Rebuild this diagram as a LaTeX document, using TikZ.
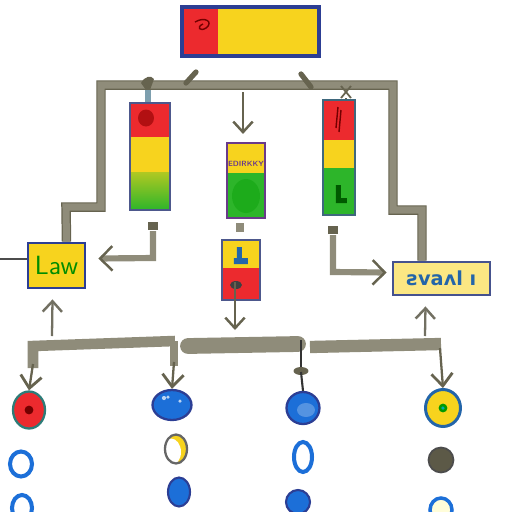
\documentclass[tikz,border=0pt]{standalone}
\usepackage{fontspec}
\newfontfamily\dvs{DejaVu Sans}
\usetikzlibrary{arrows.meta,calc,shapes.geometric}
\definecolor{pipe}{HTML}{8F8C7A}
\definecolor{pipedark}{HTML}{66634F}
\definecolor{tyellow}{HTML}{F7D31E}
\definecolor{tred}{HTML}{EC2A2E}
\definecolor{tgreen}{HTML}{2DB52A}
\definecolor{bblue}{HTML}{2C3E94}
\definecolor{cblue}{HTML}{1C6FD8}
\definecolor{tpurple}{HTML}{6A3A8A}
\definecolor{teal}{HTML}{2D7C78}
\begin{document}
\begin{tikzpicture}[x=0.02cm,y=-0.02cm,
  pipeline/.style={draw=pipedark, double=pipe, double distance=4pt, line width=0.7pt},
  parrow/.style={draw=pipe, line width=3.5pt, -{Straight Barb[color=pipedark,length=7pt,width=14pt,line width=1.4pt]}},
  tarrow/.style={draw=pipedark, line width=1.3pt, -{Straight Barb[length=6pt,width=11pt,line width=1.4pt]}},
  barrow/.style={draw=pipedark, line width=1.3pt, -{Straight Barb[length=7pt,width=12pt,line width=1.6pt]}},
  bar/.style={draw=pipe, line width=6pt},
  frame/.style={draw, line width=1.2pt, inner sep=0pt},
  dot/.style={ellipse, inner sep=0pt}
]
\useasboundingbox (0,0) rectangle (512,512);
\clip (0,0) rectangle (512,512);

% ---------- top box ----------
\node[frame, draw=none, fill=tyellow, minimum width=2.7cm, minimum height=0.94cm] (top) at (250.5,31.5) {};
\fill[tred] ($(top.north west)+(2,2)$) rectangle ($(top.south west)+(36,-2)$);
\draw[red!45!black, line width=0.8pt] (195,22) .. controls (205,16) and (214,22) .. (206,28) .. controls (200,32) and (196,27) .. (203,24);
\draw[bblue, line width=1.8pt] (top.north west) rectangle (top.south east);

% ---------- side boxes ----------
\node[frame, draw=bblue, line width=1.6pt, fill=tyellow, minimum width=1.14cm, minimum height=0.9cm,
      font=\sffamily\fontsize{15}{15}\selectfont, text=green!55!black] (lbox) at (56.5,265.5) {Law};
\node[frame, draw=bblue!70!gray, line width=1.6pt, fill=tyellow!55!white, minimum width=1.94cm, minimum height=0.66cm,
      font=\dvs\bfseries\fontsize{11}{11}\selectfont, text=bblue!80!cyan] (rbox) at (441.5,278.5) {ƨvaʌl ı};

% ---------- pipe frame ----------
\draw[pipeline] ($(lbox.north)+(10,0)$) -- (66,207) -- (101,207) -- (101,85) -- (393,85) -- (393,210) -- (422,210) -- ($(rbox.north)+(-19.5,0)$);

% marks on the top pipe
\draw[pipedark, line width=3pt, line cap=round] (186,83) -- (196,72);
\draw[pipedark, line width=3pt, line cap=round] (301,74) -- (311,87);
\fill[pipedark] (141,83) .. controls (145,76) and (151,75) .. (154,79) -- (150,90) -- (146,90) -- cycle;

% ---------- traffic lights ----------
\fill[tred] (130,103) rectangle (170,137);
\fill[tyellow] (130,137) rectangle (170,172);
\shade[top color=tgreen!35!tyellow, bottom color=tgreen] (130,172) rectangle (170,210);
\fill[red!55!black, opacity=0.6] (146,118) ellipse (0.16cm and 0.17cm);
\node[frame, draw=bblue!60!gray, minimum width=0.8cm, minimum height=2.14cm] (tlL) at (150,156.5) {};

\fill[tred] (323,100) rectangle (355,140);
\fill[tyellow] (323,140) rectangle (355,168);
\fill[tgreen] (323,168) rectangle (355,215);
\draw[red!45!black, line width=0.8pt] (338,107) -- (336,128) (341,110) -- (339,132);
\fill[green!35!black] (336,185) rectangle (341,203) (341,198) rectangle (347,203);
\node[frame, draw=teal!70!tpurple, minimum width=0.64cm, minimum height=2.3cm] (tlR) at (339,157.5) {};

% hangers
\draw[cyan!30!gray, line width=3pt] (148,90) -- ($(tlL.north)+(-2,0)$);
\draw[pipedark, line width=1pt] (341,86) -- (351,98) (351,86) -- (341,98);
\draw[pipedark, line width=1pt] (346,98) -- ($(tlR.north)+(7,0)$);

% ---------- middle column ----------
\fill[tyellow] (227,143) rectangle (265,173);
\fill[tgreen] (227,173) rectangle (265,218);
\fill[green!60!black, opacity=0.35] (246,196) ellipse (0.28cm and 0.34cm);
\node[frame, draw=tpurple, minimum width=0.76cm, minimum height=1.5cm] (mtop) at (246,180.5) {};
\node[text=tpurple, font=\sffamily\bfseries\fontsize{4.3}{4.3}\selectfont, inner sep=0pt] (mtxt) at (246,164) {EDIRKKY};

\coordinate (mh) at (243,92);
\draw[tarrow] (mh) -- ($(mtop.north)+(-3,-8)$);

\fill[tyellow] (222,240) rectangle (260,268);
\fill[tred] (222,268) rectangle (260,300);
\fill[bblue!80!cyan] (237,247) rectangle (242,260) (234,258) rectangle (248,264);
\fill[black!75] (236,285) ellipse (0.12cm and 0.08cm);
\node[frame, draw=bblue!60!gray, minimum width=0.76cm, minimum height=1.2cm] (mbot) at (241,270) {};

\draw[pipe, line width=5pt] ($(mtop.south)+(-6,4)$) -- ($(mbot.north)+(-1,-7)$);

\coordinate (mdown) at (235,330);
\draw[tarrow] ($(mbot.center)+(-6,12)$) -- (mdown);

% ---------- side arrows ----------
\fill[pipedark] (148,222) rectangle (158,230);
\draw[parrow] ($(tlL.south)+(3,20)$) -- (153,258) -- ($(lbox.east)+(12,-7)$);
\fill[pipedark] (328,226) rectangle (338,234);
\draw[parrow] ($(tlR.south)+(-6,19)$) -- (333,272) -- ($(rbox.west)+(-5,-6)$);

\draw[black!70, line width=0.8pt] (0,259) -- (lbox.west |- 0,259);

\coordinate (ua1) at (52,336);
\draw[tarrow, draw=pipe!80!black] (ua1) -- ($(lbox.south)+(-4,10)$);
\coordinate (ua2) at (425,336);
\draw[tarrow, draw=pipe!80!black] (ua2) -- ($(rbox.south)+(-16,10)$);

% ---------- circles ----------
\node[dot, fill=tred, draw=teal, line width=1.3pt, minimum width=0.64cm, minimum height=0.74cm] (c1) at (29,410) {};
\fill[red!45!black] (c1.center) circle (2.5pt);
\node[dot, fill=cblue, draw=bblue, line width=1.3pt, minimum width=0.78cm, minimum height=0.6cm] (c2) at (172,405) {};
\fill[white, opacity=0.7] (164,398) circle (1.2pt) (168,397) circle (1pt) (180,401) circle (1pt);
\node[dot, fill=cblue, draw=bblue, line width=1.3pt, minimum width=0.66cm, minimum height=0.64cm] (c3) at (303,408) {};
\fill[white, opacity=0.25] (306,410) ellipse (0.18cm and 0.14cm);
\node[dot, fill=tyellow, draw=bblue!80!cyan, line width=1.7pt, minimum width=0.7cm, minimum height=0.74cm] (c4) at (443,408) {};
\fill[green!60!black] (c4.center) circle (2.5pt);
\fill[cyan!60!green] (c4.center) circle (1pt);

\node[dot, fill=white, draw=cblue, line width=2.3pt, minimum width=0.44cm, minimum height=0.5cm] (c5) at (21,464) {};
\begin{scope}
  \clip (176,449) ellipse (0.22cm and 0.29cm);
  \fill[tyellow] (160,430) rectangle (192,470);
  \fill[white] (171,452) ellipse (0.2cm and 0.27cm);
\end{scope}
\node[dot, draw=gray!80!black, line width=1.3pt, minimum width=0.44cm, minimum height=0.58cm] (c6) at (176,449) {};
\node[dot, fill=white, draw=cblue, line width=2.3pt, minimum width=0.36cm, minimum height=0.6cm] (c7) at (303,457) {};
\node[dot, fill=pipedark!90!black, draw=black!70, line width=1pt, minimum width=0.5cm, minimum height=0.5cm] (c8) at (441,460) {};

\node[dot, fill=white, draw=cblue, line width=2.3pt, minimum width=0.4cm, minimum height=0.52cm] (c9) at (22,508) {};
\node[dot, fill=cblue, draw=bblue, line width=1.2pt, minimum width=0.44cm, minimum height=0.58cm] (c10) at (179,492) {};
\node[dot, fill=cblue, draw=bblue, line width=1.2pt, minimum width=0.48cm, minimum height=0.48cm] (c11) at (298,502) {};
\node[dot, fill=yellow!15!white, draw=cblue, line width=2pt, minimum width=0.44cm, minimum height=0.48cm] (c12) at (441,510) {};

% ---------- bottom bars ----------
\draw[bar, line join=miter] (175,341) -- (33,346) -- (33,368);
\draw[barrow] (33,364) -- (c1.north);
\draw[draw=pipe, line width=4pt] (174,341) -- (174,366);
\draw[barrow] (174,362) -- (c2.north);

\draw[draw=pipe, line width=9pt, line cap=round] (188,346) -- (298,344);
\draw[black!80, line width=1pt] (301,340) -- (301,368);
\fill[pipedark] (301,371) ellipse (0.15cm and 0.08cm);
\draw[black!80, line width=1.2pt] (301,372) -- (c3.north);

\draw[draw=pipe, line width=7pt] (310,347) -- (441,344);
\draw[barrow] (440,348) -- (c4.north);
\end{tikzpicture}
\end{document}
